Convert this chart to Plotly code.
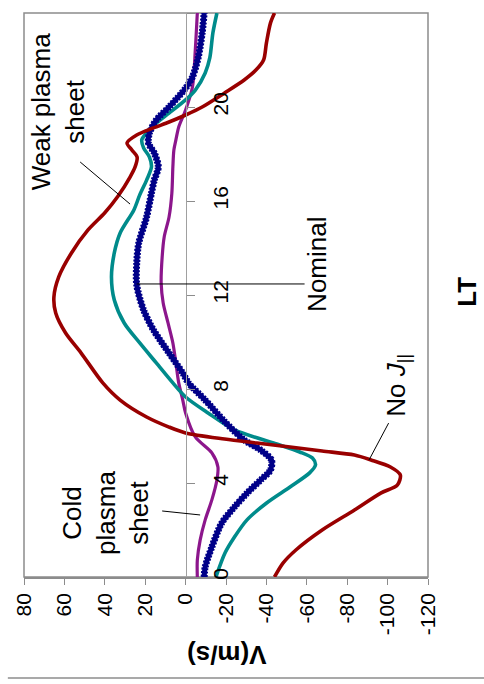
import plotly.graph_objects as go

# Local time (h) and plasma velocity V (m/s) for each model run
lt_nojpar = [0, 0.6, 1.15, 2.0, 2.85, 3.57, 3.91, 4.34, 4.68, 4.98, 5.19, 5.36, 5.53, 5.70, 5.87,
             6.13, 6.38, 6.81, 7.53, 8.26, 9.53, 10.38, 11.23, 11.91, 12.77, 13.79, 14.77, 15.49,
             16.2, 17.02, 17.45, 17.87, 18.17, 18.47, 18.81, 19.11, 19.36, 19.66, 20.0, 20.6,
             21.15, 21.57, 22.0, 22.72, 23.57, 24]
v_nojpar = [-44, -48.3, -54.6, -67.6, -83.6, -96.6, -104.8, -106.3, -101.4, -91.8, -83.6, -67.6,
            -51.7, -35.3, -19.3, 0, 8.2, 19.3, 32.4, 41, 51.7, 59.4, 64.3, 65.2, 62.8, 56.5, 48.3,
            40.1, 33.5, 27.5, 25, 24, 26.6, 29, 24.2, 15.9, 8.2, 0, -8.2, -19.3, -29, -34.8,
            -38.6, -40, -42, -44]

lt_weak = [0, 1.02, 1.70, 2.43, 3.15, 3.83, 4.43, 4.77, 5.06, 5.32, 5.70, 6.26, 6.98, 7.66, 8.26,
           9.11, 9.96, 10.81, 11.79, 12.77, 13.79, 14.64, 15.62, 16.26, 16.89, 17.45, 17.87, 18.26,
           18.6, 18.89, 19.32, 19.74, 20.3, 20.72, 21.45, 22.1, 23.15, 24]
v_weak = [-15, -19.5, -24.2, -30.4, -40.1, -51.7, -61.4, -64.3, -62.8, -56.5, -43.5, -24.2, -11.1,
          0, 6.3, 14.5, 22.7, 30.4, 35.3, 36.7, 35.3, 32.4, 25.6, 22.7, 19.3, 16.9, 17.9, 20.8,
          21.7, 19.3, 14.5, 8.2, 0, -4.8, -9.7, -12, -13.5, -15.5]

lt_nominal = [0, 0.43, 1.28, 2.30, 2.98, 3.57, 4.13, 4.55, 4.98, 5.40, 5.83, 6.6, 7.53, 8.26, 8.68,
              9.53, 10.51, 11.36, 12.43, 13.36, 14.21, 15.32, 16.34, 16.89, 17.45, 18.04, 18.47,
              18.89, 19.45, 20.0, 20.8, 21.28, 22.13, 23.15, 24]
v_nominal = [-9.2, -9.7, -13, -17.9, -24.2, -30.4, -37.2, -42, -42.5, -37.2, -29, -19.5, -9.7, -1.4,
             1.4, 8.2, 15.9, 20.8, 24.2, 24.2, 23.2, 19.3, 16.9, 15.5, 13.5, 15.5, 18.4, 17.9, 14.5,
             8.2, 0, -3.4, -6.3, -8.2, -9.2]

lt_cold = [0, 0.72, 1.57, 2.43, 3.28, 4.13, 4.68, 5.28, 5.96, 6.98, 7.53, 8.26, 9.11, 9.96, 10.81,
           11.66, 12.51, 13.62, 14.47, 15.32, 16.34, 17.45, 18.17, 18.6, 19.15, 19.87, 20.85,
           22.43, 24]
v_cold = [-5.8, -5.8, -7.2, -9.7, -13, -15.5, -16, -13, -4.8, 0, 1.4, 3.4, 4.8, 6.3, 8.7, 11.1,
          12.1, 11.6, 10.6, 8.2, 6.8, 6.3, 5.8, 4.8, 3.4, 0, -3.4, -4.8, -5.8]

v_ticks = [80, 60, 40, 20, 0, -20, -40, -60, -80, -100, -120]
lt_ticks = [0, 4, 8, 12, 16, 20, 24]

RED = "#990000"
TEAL = "#008B8B"
NAVY = "#000088"
PURPLE = "#8C168C"
GRAY = "#8c8c8c"
TICK_FONT = dict(family="Liberation Sans, Arial, sans-serif", size=21, color="black")
LABEL_FONT = dict(family="Liberation Sans, Arial, sans-serif", size=26, color="black")

fig = go.Figure()

def curve(v, lt, color, width, dash=None):
    return go.Scatter(x=v, y=lt, mode="lines",
                      line=dict(color=color, width=width, shape="spline", smoothing=0.8, dash=dash),
                      showlegend=False, hoverinfo="skip")

fig.add_trace(curve(v_cold, lt_cold, PURPLE, 3.2))
fig.add_trace(curve(v_weak, lt_weak, TEAL, 3.6))
# nominal run: solid core plus short dashes for the beaded marker look
fig.add_trace(curve(v_nominal, lt_nominal, NAVY, 5))
fig.add_trace(curve(v_nominal, lt_nominal, NAVY, 7, dash="2px,1.5px"))
fig.add_trace(curve(v_nojpar, lt_nojpar, RED, 3.6))

# leader lines from the labels to their curves
leaders = [
    (52.2, 17.66, 27.5, 15.87),
    (24.2, 12.47, -58.9, 12.47),
    (-100.5, 6.55, -90.8, 4.98),
    (11.6, 2.81, -7.2, 2.64),
]
for x0, y0, x1, y1 in leaders:
    fig.add_shape(type="line", xref="x", yref="y", x0=x0, y0=y0, x1=x1, y1=y1,
                  line=dict(color="black", width=1))

# plot frame and outer rule
fig.add_shape(type="rect", xref="paper", yref="paper", x0=0, y0=0, x1=1, y1=1,
              line=dict(color=GRAY, width=1.5), layer="below")
fig.add_shape(type="line", xref="paper", yref="paper", x0=-0.04, x1=1.15, y0=-0.179, y1=-0.179,
              line=dict(color=GRAY, width=1.5))

labels = [
    ("Weak plasma<br>sheet", 63.0, 19.83),
    ("Nominal", -65.0, 13.32),
    ("No <i>J</i><sub>||</sub>", -104.5, 8.17),
    ("Cold<br>plasma<br>sheet", 39.5, 2.72),
]
for text, x, y in labels:
    fig.add_annotation(text=text, x=x, y=y, xref="x", yref="y", showarrow=False,
                       xanchor="center", yanchor="middle",
                       textangle=-90, font=LABEL_FONT, align="center")

fig.add_annotation(text="<b>V(m/s)</b>", x=0.502, y=-0.137, xref="paper", yref="paper",
                   xanchor="center", yanchor="middle",
                   showarrow=False, textangle=180, font=LABEL_FONT)
fig.add_annotation(text="<b>LT</b>", x=1.098, y=0.505, xref="paper", yref="paper",
                   xanchor="center", yanchor="middle",
                   showarrow=False, textangle=-90, font=dict(LABEL_FONT, size=26))

fig.update_layout(
    width=484, height=684,
    margin=dict(l=14, r=56, t=13, b=107),
    paper_bgcolor="white", plot_bgcolor="white",
    xaxis=dict(range=[80, -120], tickvals=v_ticks, ticktext=[str(v) for v in v_ticks],
               tickangle=-90, ticks="outside",
               ticklen=6, tickcolor=GRAY, showgrid=False, zeroline=False,
               showline=True, linecolor=GRAY, linewidth=1.5, tickfont=TICK_FONT),
    yaxis=dict(range=[0, 24], tickvals=lt_ticks, tickangle=-90, ticks="outside",
               ticklen=8, tickcolor=GRAY, showgrid=False, zeroline=False,
               showline=True, linecolor="#a0a0a0", linewidth=1.2, anchor="free",
               position=0.401, side="right", ticklabelstandoff=8, tickfont=TICK_FONT),
)

fig.write_html("out.html")
